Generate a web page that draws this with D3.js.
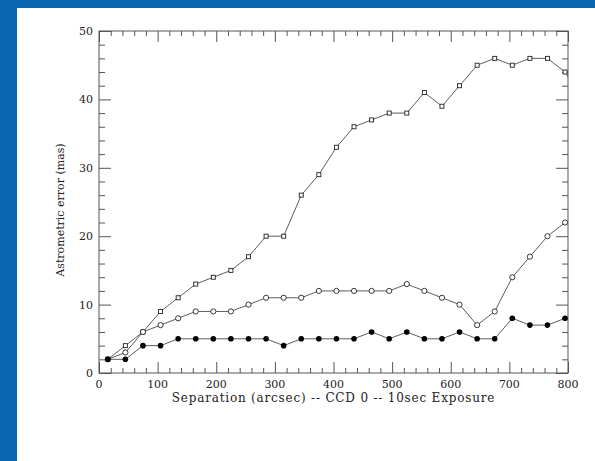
<!DOCTYPE html>
<html>
<head>
<meta charset="utf-8">
<script src="https://cdn.jsdelivr.net/npm/d3@7"></script>
<style>
  html, body { margin: 0; padding: 0; background: #fff; }
  svg { display: block; }
</style>
</head>
<body>
<svg id="chart" width="595" height="461"></svg>
<script>
// separation (arcsec) of each measurement
const separation = [15, 45, 75, 105, 135, 165, 195, 225, 255, 285, 315, 345, 375, 405,
  435, 465, 495, 525, 555, 585, 615, 645, 675, 705, 735, 765, 795, 825];
// astrometric error (mas), three curves
const errSquares = [2, 4, 6, 9, 11, 13, 14, 15, 17, 20, 20, 26, 29, 33,
  36, 37, 38, 38, 41, 39, 42, 45, 46, 45, 46, 46, 44, 40];
const errOpen = [2, 3, 6, 7, 8, 9, 9, 9, 10, 11, 11, 11, 12, 12,
  12, 12, 12, 13, 12, 11, 10, 7, 9, 14, 17, 20, 22];
const errFilled = [2, 2, 4, 4, 5, 5, 5, 5, 5, 5, 4, 5, 5, 5,
  5, 6, 5, 6, 5, 5, 6, 5, 5, 8, 7, 7, 8];
const xTicks = [0, 100, 200, 300, 400, 500, 600, 700, 800];
const yTicks = [0, 10, 20, 30, 40, 50];

const svg = d3.select("#chart");
const pLeft = 99, pRight = 568, pTop = 31, pBottom = 373;
const serif = "'DejaVu Serif', serif";
const axisCol = "#555";

// blue frame strips
svg.append("rect").attr("x", 0).attr("y", 0).attr("width", 595).attr("height", 8).attr("fill", "#0a66ae");
svg.append("rect").attr("x", 0).attr("y", 0).attr("width", 17).attr("height", 461).attr("fill", "#0a66ae");

const x = d3.scaleLinear().domain([0, 800]).range([pLeft, pRight]);
const y = d3.scaleLinear().domain([0, 50]).range([pBottom, pTop]);

// ticks, inward on all four sides
function axisTicks(axisGen, tx, ty) {
  const g = svg.append("g").attr("transform", `translate(${tx},${ty})`).call(axisGen);
  g.select(".domain").remove();
  g.selectAll("text").remove();
  g.selectAll("line").attr("stroke", axisCol).attr("stroke-width", 1);
  return g;
}
const xMinor = d3.range(0, 801, 20).filter(v => v % 100 !== 0);
const yMinor = d3.range(0, 51, 2).filter(v => v % 10 !== 0);

axisTicks(d3.axisTop(x).tickValues(xTicks).tickSize(11), 0, pBottom);
axisTicks(d3.axisTop(x).tickValues(xMinor).tickSize(5), 0, pBottom);
axisTicks(d3.axisBottom(x).tickValues(xTicks).tickSize(11), 0, pTop);
axisTicks(d3.axisBottom(x).tickValues(xMinor).tickSize(5), 0, pTop);
axisTicks(d3.axisRight(y).tickValues(yTicks).tickSize(12), pLeft, 0);
axisTicks(d3.axisRight(y).tickValues(yMinor).tickSize(6), pLeft, 0);
axisTicks(d3.axisLeft(y).tickValues(yTicks).tickSize(12), pRight, 0);
axisTicks(d3.axisLeft(y).tickValues(yMinor).tickSize(6), pRight, 0);

svg.append("rect")
  .attr("x", pLeft).attr("y", pTop)
  .attr("width", pRight - pLeft).attr("height", pBottom - pTop)
  .attr("fill", "none").attr("stroke", axisCol).attr("stroke-width", 1);

// tick labels
svg.append("g").selectAll("text").data(xTicks).join("text")
  .attr("x", d => x(d)).attr("y", pBottom + 15)
  .attr("text-anchor", "middle")
  .style("font-family", serif).style("font-size", "11px").attr("fill", "#222")
  .text(d => d);
svg.append("g").selectAll("text").data(yTicks).join("text")
  .attr("x", pLeft - 6).attr("y", d => y(d) + 4)
  .attr("text-anchor", "end")
  .style("font-family", serif).style("font-size", "11px").attr("fill", "#222")
  .text(d => d);

svg.append("text")
  .attr("x", (pLeft + pRight) / 2).attr("y", pBottom + 29)
  .attr("text-anchor", "middle")
  .style("font-family", serif).style("font-size", "12px")
  .style("letter-spacing", "0.8px").attr("fill", "#222")
  .text("Separation (arcsec) -- CCD 0 -- 10sec Exposure");
svg.append("text")
  .attr("transform", `translate(64,210) rotate(-90)`)
  .attr("text-anchor", "middle")
  .style("font-family", serif).style("font-size", "11px").attr("fill", "#222")
  .text("Astrometric error (mas)");

// curves
svg.append("clipPath").attr("id", "plotClip")
  .append("rect").attr("x", pLeft).attr("y", pTop).attr("width", pRight - pLeft).attr("height", pBottom - pTop);

const line = d3.line().x(d => x(d[0])).y(d => y(d[1]));
const series = [errSquares, errOpen, errFilled].map(vals => vals.map((v, i) => [separation[i], v]));

const plot = svg.append("g").attr("clip-path", "url(#plotClip)");
plot.selectAll("path.curve").data(series).join("path")
  .attr("class", "curve")
  .attr("d", line)
  .attr("fill", "none").attr("stroke", "#333").attr("stroke-width", 0.8);

const inside = s => s.filter(d => d[0] <= 800);

plot.selectAll("rect.sq").data(inside(series[0])).join("rect")
  .attr("class", "sq")
  .attr("x", d => x(d[0]) - 2).attr("y", d => y(d[1]) - 2)
  .attr("width", 4).attr("height", 4)
  .attr("fill", "#fff").attr("stroke", "#222").attr("stroke-width", 0.9);

plot.selectAll("circle.open").data(inside(series[1])).join("circle")
  .attr("class", "open")
  .attr("cx", d => x(d[0])).attr("cy", d => y(d[1])).attr("r", 2.6)
  .attr("fill", "#fff").attr("stroke", "#222").attr("stroke-width", 0.9);

plot.selectAll("circle.filled").data(inside(series[2])).join("circle")
  .attr("class", "filled")
  .attr("cx", d => x(d[0])).attr("cy", d => y(d[1])).attr("r", 2.8)
  .attr("fill", "#000");
</script>
</body>
</html>
